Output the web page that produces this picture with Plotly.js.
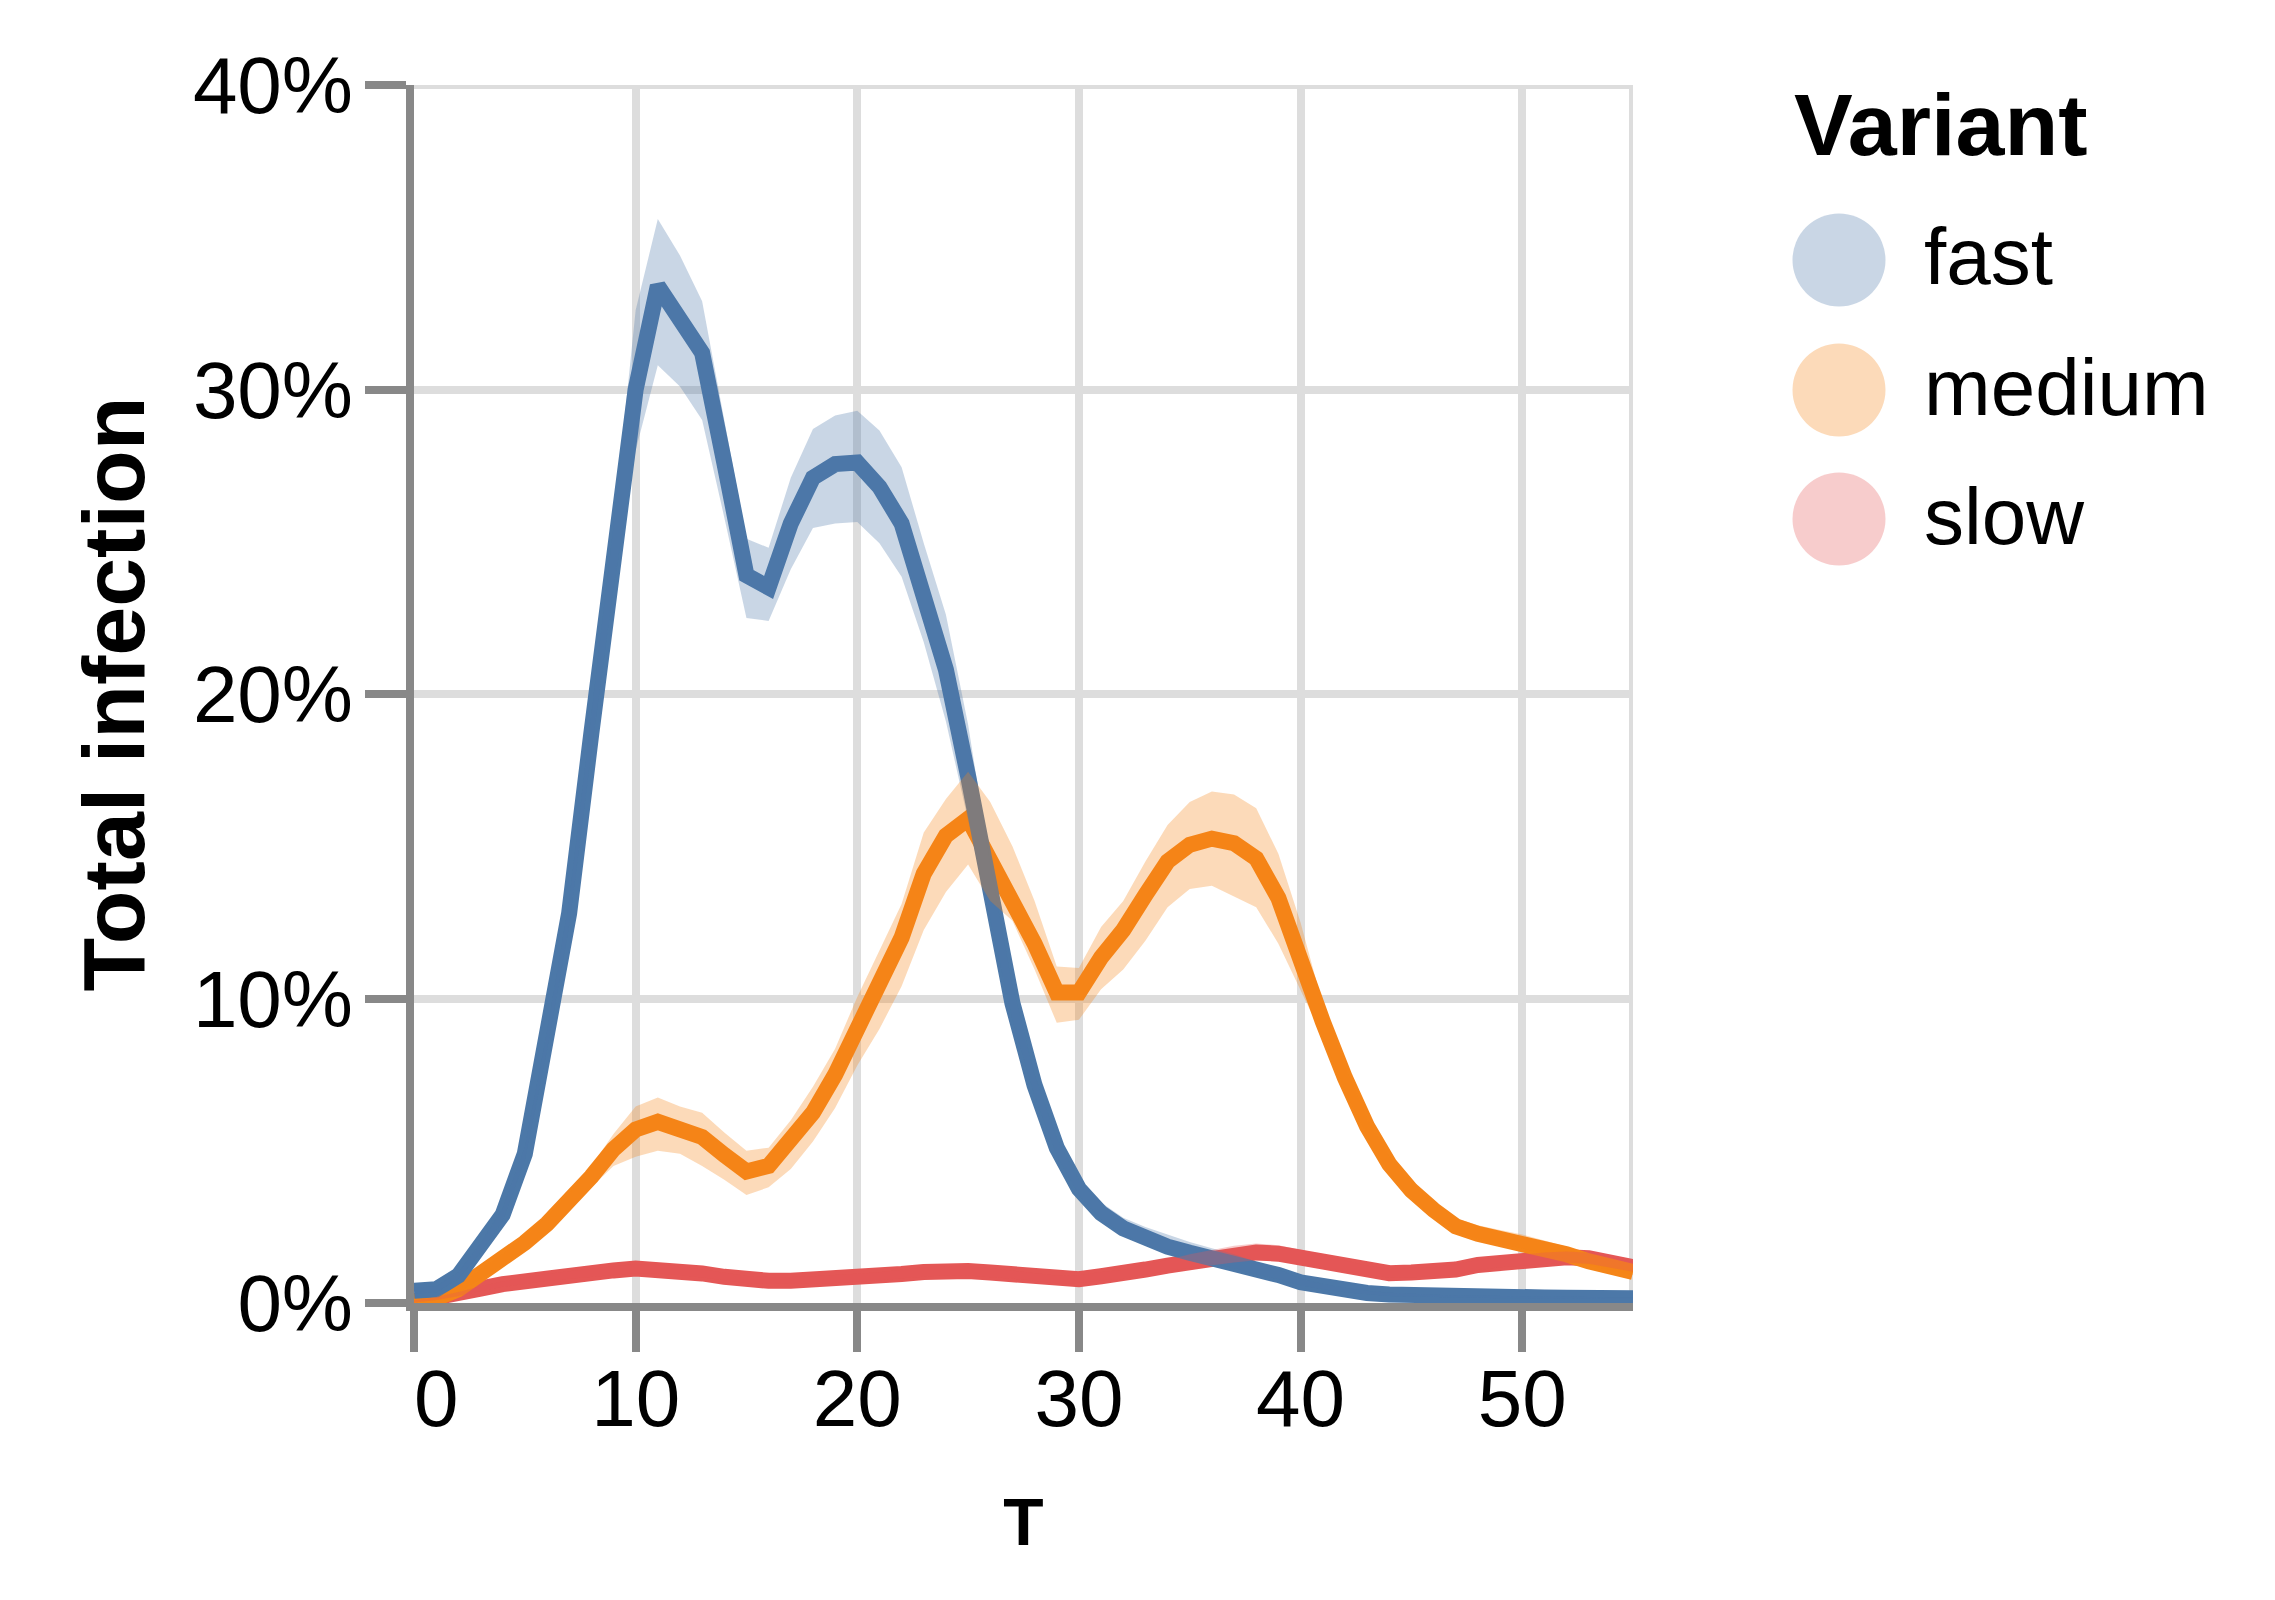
<!DOCTYPE html>
<html>
<head>
<meta charset="utf-8">
<script src="https://cdn.plot.ly/plotly-3.0.1.min.js"></script>
<style>
  html, body { margin: 0; padding: 0; background: #fff; }
  #chart { width: 2275px; height: 1600px; }
</style>
</head>
<body>
<div id="chart"></div>
<script>
// ---------------- DATA ----------------
const T = [0,1,2,3,4,5,6,7,8,9,10,11,12,13,14,15,16,17,18,19,20,21,22,23,24,25,26,27,28,29,30,31,32,33,34,35,36,37,38,39,40,41,42,43,44,45,46,47,48,49,50,51,52,53,54,55];

const variants = ["fast", "medium", "slow"];

const fastMean  = [0.4,0.45,0.9,1.8,2.9,4.9,8.6,12.8,18.7,24.4,30.0,33.4,32.3,31.2,27.6,23.9,23.5,25.6,27.1,27.55,27.6,26.8,25.6,23.4,20.8,17.3,13.5,9.85,7.15,5.1,3.75,2.95,2.45,2.1,1.85,1.65,1.48,1.33,1.13,0.92,0.68,0.53,0.42,0.33,0.28,0.25,0.23,0.21,0.2,0.19,0.18,0.18,0.17,0.17,0.16,0.16];
const fastUpper = [0.5,0.55,1.0,1.95,3.1,5.1,8.9,13.2,19.3,25.5,32.6,35.6,34.4,32.9,29.0,25.1,24.8,27.1,28.7,29.15,29.3,28.65,27.45,24.95,22.6,19.0,14.4,10.4,7.5,5.4,4.05,3.3,2.8,2.5,2.25,2.0,1.8,1.6,1.35,1.1,0.8,0.62,0.5,0.4,0.34,0.3,0.27,0.25,0.24,0.22,0.21,0.21,0.2,0.2,0.19,0.19];
const fastLower = [0.3,0.35,0.8,1.65,2.7,4.7,8.3,12.4,18.1,23.5,28.0,30.8,30.1,29.0,25.8,22.5,22.4,24.1,25.45,25.6,25.65,24.95,23.85,21.7,19.1,15.9,12.6,9.3,6.8,4.85,3.55,2.75,2.25,1.9,1.65,1.45,1.3,1.15,0.95,0.78,0.58,0.45,0.35,0.28,0.23,0.21,0.19,0.18,0.17,0.16,0.15,0.15,0.14,0.14,0.13,0.13];

const mediumMean  = [0.05,0.15,0.45,0.95,1.43,1.98,2.6,3.33,4.15,5.05,5.7,5.95,5.7,5.45,4.86,4.32,4.5,5.3,6.25,7.5,9.0,10.5,12.0,14.1,15.35,15.9,14.6,13.3,11.8,10.2,10.2,11.35,12.25,13.4,14.5,15.05,15.25,15.1,14.6,13.3,11.15,9.25,7.4,5.8,4.56,3.7,3.06,2.52,2.27,2.12,1.97,1.78,1.6,1.37,1.18,1.02];
const mediumUpper = [0.1,0.2,0.55,1.1,1.6,2.2,2.85,3.6,4.5,5.55,6.45,6.75,6.45,6.25,5.6,5.0,5.1,6.0,7.1,8.35,10.05,11.6,13.1,15.45,16.55,17.45,16.45,15.0,13.2,11.05,11.0,12.35,13.2,14.5,15.7,16.45,16.8,16.7,16.25,14.75,12.5,9.8,7.75,6.05,4.8,3.95,3.3,2.78,2.55,2.4,2.25,2.05,1.85,1.6,1.38,1.2];
const mediumLower = [0.02,0.1,0.35,0.8,1.25,1.75,2.35,3.05,3.8,4.5,4.8,5.0,4.9,4.5,4.05,3.55,3.8,4.4,5.3,6.4,7.8,9.0,10.4,12.25,13.5,14.4,13.2,12.55,10.95,9.2,9.3,10.3,10.95,11.9,13.0,13.6,13.7,13.35,13.0,11.8,10.3,8.75,7.0,5.5,4.3,3.45,2.85,2.35,2.1,1.95,1.8,1.62,1.45,1.25,1.07,0.92];

const slowMean  = [0.05,0.15,0.29,0.47,0.62,0.73,0.84,0.92,0.99,1.07,1.13,1.12,1.06,0.97,0.86,0.77,0.73,0.73,0.75,0.78,0.83,0.88,0.95,1.02,1.06,1.05,1.0,0.93,0.85,0.77,0.78,0.88,0.93,1.1,1.23,1.36,1.47,1.58,1.66,1.62,1.5,1.36,1.21,1.06,0.98,1.0,1.01,1.1,1.25,1.34,1.41,1.47,1.5,1.47,1.33,1.18];
const slowUpper = [0.08,0.2,0.36,0.55,0.71,0.83,0.95,1.04,1.12,1.21,1.28,1.27,1.2,1.1,0.99,0.89,0.85,0.85,0.88,0.91,0.96,1.01,1.09,1.17,1.21,1.2,1.14,1.07,0.98,0.9,0.91,1.02,1.08,1.27,1.42,1.6,1.75,1.88,1.95,1.9,1.75,1.58,1.4,1.22,1.13,1.15,1.17,1.27,1.42,1.52,1.6,1.66,1.69,1.65,1.5,1.34];
const slowLower = [0.02,0.1,0.22,0.39,0.53,0.63,0.73,0.8,0.86,0.93,0.98,0.97,0.92,0.84,0.74,0.66,0.62,0.62,0.63,0.66,0.7,0.75,0.81,0.87,0.91,0.9,0.86,0.8,0.73,0.65,0.66,0.75,0.79,0.94,1.05,1.15,1.25,1.33,1.4,1.38,1.28,1.16,1.03,0.91,0.84,0.86,0.86,0.94,1.08,1.17,1.23,1.28,1.31,1.29,1.16,1.03];

const xTickVals = [0,10,20,30,40,50];
const xTickText = ["\u00a0\u00a00","10","20","30","40","50"];
const yTickVals = [0,10,20,30,40];
const yTickText = ["0%","10%","20%","30%","40%"];

// ---------------- STYLE ----------------
const colors = { fast: "#4c78a8", medium: "#f58518", slow: "#e45756" };
const bandColors = { fast: "rgba(76,120,168,0.3)", medium: "rgba(245,133,24,0.3)", slow: "rgba(228,87,86,0.3)" };
const series = {
  fast:   { mean: fastMean,   upper: fastUpper,   lower: fastLower },
  medium: { mean: mediumMean, upper: mediumUpper, lower: mediumLower },
  slow:   { mean: slowMean,   upper: slowUpper,   lower: slowLower }
};

const FONT = "Liberation Sans, Arial, Helvetica, sans-serif";
const W = 2275, H = 1600;
const M = { l: 414, r: 642, t: 85, b: 297 };
const PW = W - M.l - M.r, PH = H - M.t - M.b;
const px2x = p => (p - M.l) / PW;
const py2y = p => (H - M.b - p) / PH;

const traces = [];
// lines (slow bottom, fast top)
["slow", "medium", "fast"].forEach(v => {
  traces.push({
    type: "scatter", mode: "lines", x: T, y: series[v].mean, name: v,
    line: { color: colors[v], width: 16 }, showlegend: false, hoverinfo: "skip"
  });
});
// bands drawn over lines
["fast", "medium", "slow"].forEach(v => {
  traces.push({
    type: "scatter", mode: "lines", x: T, y: series[v].upper,
    line: { width: 0, color: bandColors[v] }, showlegend: false, hoverinfo: "skip"
  });
  traces.push({
    type: "scatter", mode: "lines", x: T, y: series[v].lower,
    line: { width: 0, color: bandColors[v] }, fill: "tonexty", fillcolor: bandColors[v],
    showlegend: false, hoverinfo: "skip"
  });
});

// custom legend (large circle symbols)
const shapes = [
  { type: "line", xref: "x", yref: "y", x0: 55, x1: 55, y0: 0, y1: 40, layer: "below",
    line: { color: "#dddddd", width: 8 } },
  { type: "line", xref: "x", yref: "y", x0: 0, x1: 55, y0: 40, y1: 40, layer: "below",
    line: { color: "#dddddd", width: 8 } }
];
const annotations = [
  { text: "Variant", xref: "paper", yref: "paper", x: px2x(1792), y: py2y(124),
    xanchor: "left", yanchor: "middle", showarrow: false,
    font: { family: FONT, size: 88, weight: "bold", color: "#000" } }
];
const itemY = [260, 390, 519];
const labelY = [256, 387, 516];
variants.forEach((v, i) => {
  shapes.push({
    type: "circle", xref: "paper", yref: "paper",
    xsizemode: "pixel", ysizemode: "pixel",
    xanchor: px2x(1839), yanchor: py2y(itemY[i]),
    x0: -46.5, x1: 46.5, y0: -46.5, y1: 46.5,
    fillcolor: bandColors[v], line: { width: 0 }
  });
  annotations.push({
    text: v, xref: "paper", yref: "paper", x: px2x(1922), y: py2y(labelY[i]),
    xanchor: "left", yanchor: "middle", showarrow: false,
    font: { family: FONT, size: 80, color: "#000" }
  });
});

const axisCommon = {
  ticks: "outside", ticklen: 41, tickwidth: 8, tickcolor: "#888888",
  showline: true, linecolor: "#888888", linewidth: 8,
  showgrid: true, gridcolor: "#dddddd", gridwidth: 8,
  zeroline: false, layer: "below traces", fixedrange: true,
  tickfont: { family: FONT, size: 80, color: "#000" }
};

const layout = {
  width: W, height: H,
  margin: M,
  paper_bgcolor: "#ffffff", plot_bgcolor: "#ffffff",
  font: { family: FONT, color: "#000" },
  showlegend: false,
  xaxis: Object.assign({}, axisCommon, {
    range: [0, 55], tickmode: "array", tickvals: xTickVals, ticktext: xTickText,
    ticklabelstandoff: -22,
    title: { text: "T", font: { family: FONT, size: 66, weight: "bold", color: "#000" }, standoff: 60 }
  }),
  yaxis: Object.assign({}, axisCommon, {
    range: [0, 40], tickmode: "array", tickvals: yTickVals, ticktext: yTickText,
    ticklabelstandoff: -4,
    title: { text: "Total infection", font: { family: FONT, size: 88, weight: "bold", color: "#000" }, standoff: 22 }
  }),
  shapes: shapes,
  annotations: annotations
};

Plotly.newPlot("chart", traces, layout, { displayModeBar: false, staticPlot: true });
</script>
</body>
</html>
